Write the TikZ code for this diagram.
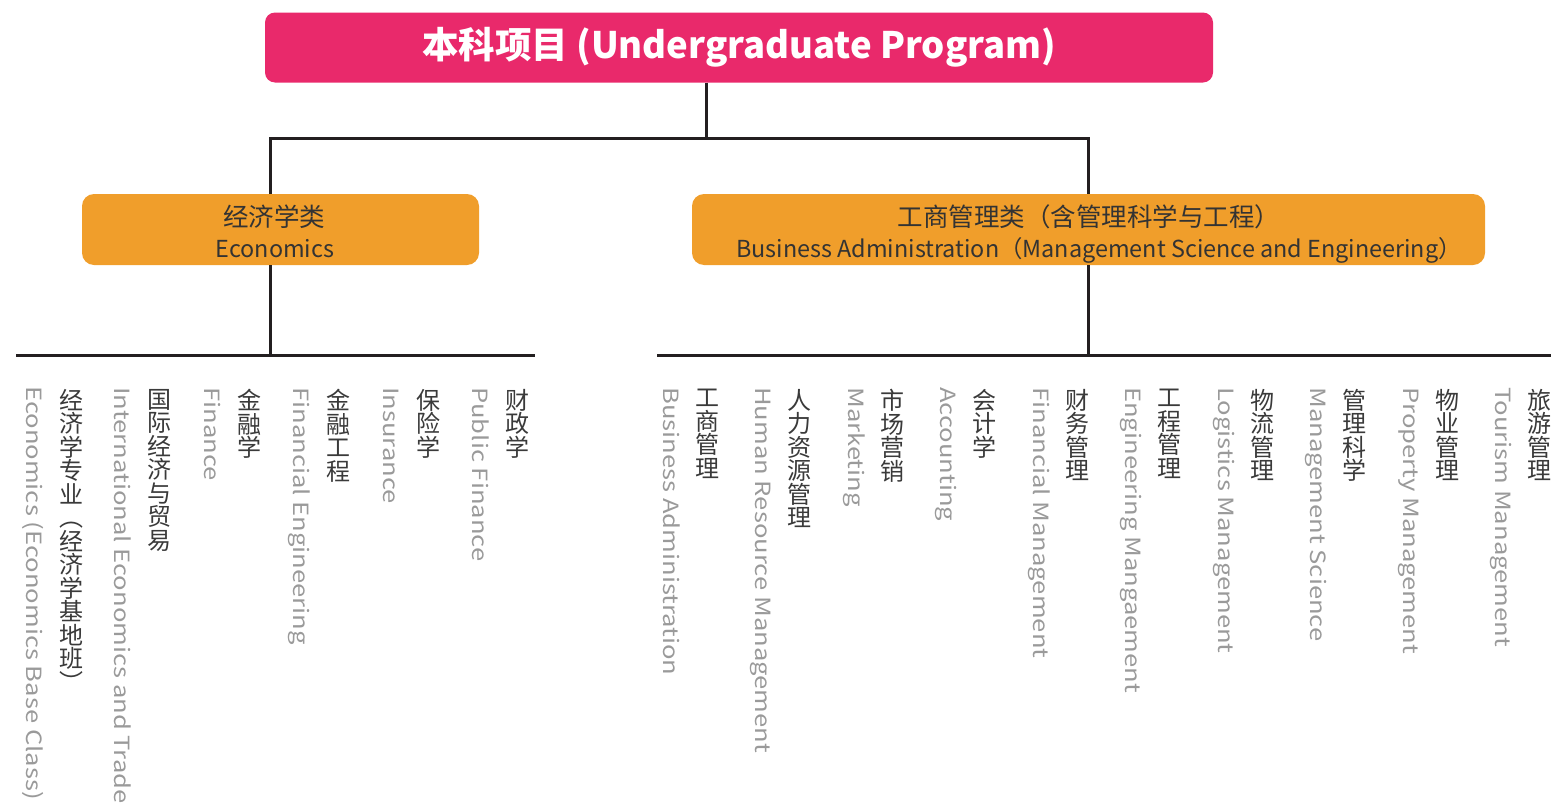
\documentclass[tikz,border=0pt]{standalone}
\usepackage{fontspec}
\usepackage{graphicx}
\setmainfont{Noto Sans CJK SC}
\definecolor{pinkc}{HTML}{E9296B}
\definecolor{orangec}{HTML}{F09E2B}
\definecolor{linec}{HTML}{231F20}
\definecolor{cntext}{HTML}{3A3A3A}
\definecolor{entext}{HTML}{9A9A9A}
\definecolor{otc}{HTML}{333333}
\newcommand\enstretch[1]{\scalebox{1.22}[1]{#1}}
\newcommand\cnstackfont{\fontsize{24}{23.5}\selectfont\lineskiplimit=-100pt\relax}
\begin{document}
\begin{tikzpicture}[x=1pt,y=-1pt,
  conn/.style={draw=linec,line width=3pt},
  pbox/.style={fill=pinkc,rounded corners=10pt,minimum width=948pt,minimum height=70pt,inner sep=0pt,text=white,font=\bfseries\fontsize{36.5}{40}\selectfont},
  obox/.style={fill=orangec,rounded corners=12pt,minimum height=71pt,inner sep=0pt},
  otext/.style={anchor=base,inner sep=0pt,text=otc,font=\fontsize{25.5}{28}\selectfont},
  oten/.style={anchor=base,inner sep=0pt,text=otc,font=\fontsize{23.4}{28}\selectfont},
  cnv/.style={anchor=north,inner sep=0pt,align=center,text=cntext,font=\cnstackfont},
  env/.style={rotate=-90,anchor=base west,inner sep=0pt,text=entext,font=\fontsize{21}{24}\selectfont}]
\useasboundingbox (0,0) rectangle (1551,803);

% top and category boxes
\node[pbox] (root) at (739,47.5) {本科项目 (Undergraduate Program)};
\node[obox,minimum width=397pt] (econ) at (280.5,229.5) {};
\node[obox,minimum width=793pt] (bus) at (1088.5,229.5) {};
\node[otext] (econ-zh) at (274,226) {经济学类};
\node[oten] (econ-en) at (275,257) {Economics};
\node[otext] (bus-zh) at (1089,226) {工商管理类（含管理科学与工程）};
\node[oten] (bus-en) at (1099,257) {Business Administration（Management Science and Engineering）};

% connectors
\coordinate (t0) at (706,138);
\coordinate (tl) at (270,138);
\coordinate (tr) at (1088,138);
\coordinate (bl) at (270,355);
\coordinate (br) at (1088,355);
\coordinate (hl1) at (16,355);
\coordinate (hl2) at (535,355);
\coordinate (hr1) at (657,355);
\coordinate (hr2) at (1551,355);
\draw[conn] (root.south -| t0) -- (t0);
\draw[conn] (econ.north -| tl) -- (tl) -- (tr) -- (bus.north -| tr);
\draw[conn] (econ.south -| bl) -- (bl);
\draw[conn] (bus.south -| br) -- (br);
\draw[conn] (hl1) -- (hl2);
\draw[conn] (hr1) -- (hr2);

% economics majors
\node[env] (e1) at (26,386) {\enstretch{Economics (Economics Base Class)}};
\node[cnv] (c1) at (71,389) {经\\济\\学\\专\\业\\︵\\经\\济\\学\\基\\地\\班\\︶};
\node[env] (e2) at (114.5,387) {\enstretch{International Economics and Trade}};
\node[cnv] (c2) at (159.5,389) {国\\际\\经\\济\\与\\贸\\易};
\node[env] (e3) at (204,387) {\enstretch{Finance}};
\node[cnv] (c3) at (249,389) {金\\融\\学};
\node[env] (e4) at (293.5,387) {\enstretch{Financial Engineering}};
\node[cnv] (c4) at (338.5,389) {金\\融\\工\\程};
\node[env] (e5) at (383,387) {\enstretch{Insurance}};
\node[cnv] (c5) at (428,389) {保\\险\\学};
\node[env] (e6) at (472.5,387) {\enstretch{Public Finance}};
\node[cnv] (c6) at (517.5,389) {财\\政\\学};

% business majors
\node[env] (f1) at (663,387) {\enstretch{Business Administration}};
\node[cnv] (d1) at (707,389) {工\\商\\管\\理};
\node[env] (f2) at (755.5,387) {\enstretch{Human Resource Management}};
\node[cnv] (d2) at (799.5,389) {人\\力\\资\\源\\管\\理};
\node[env] (f3) at (848,387) {\enstretch{Marketing}};
\node[cnv] (d3) at (892,389) {市\\场\\营\\销};
\node[env] (f4) at (940.5,387) {\enstretch{Accounting}};
\node[cnv] (d4) at (984.5,389) {会\\计\\学};
\node[env] (f5) at (1033,387) {\enstretch{Financial Management}};
\node[cnv] (d5) at (1077,389) {财\\务\\管\\理};
\node[env] (f6) at (1125.5,387) {\enstretch{Engineering Mangaement}};
\node[cnv] (d6) at (1169.5,389) {工\\程\\管\\理};
\node[env] (f7) at (1218,387) {\enstretch{Logistics Management}};
\node[cnv] (d7) at (1262,389) {物\\流\\管\\理};
\node[env] (f8) at (1310.5,387) {\enstretch{Management Science}};
\node[cnv] (d8) at (1354.5,389) {管\\理\\科\\学};
\node[env] (f9) at (1403,387) {\enstretch{Property Management}};
\node[cnv] (d9) at (1447,389) {物\\业\\管\\理};
\node[env] (f10) at (1495.5,387) {\enstretch{Tourism Management}};
\node[cnv] (d10) at (1539.5,389) {旅\\游\\管\\理};
\end{tikzpicture}
\end{document}
